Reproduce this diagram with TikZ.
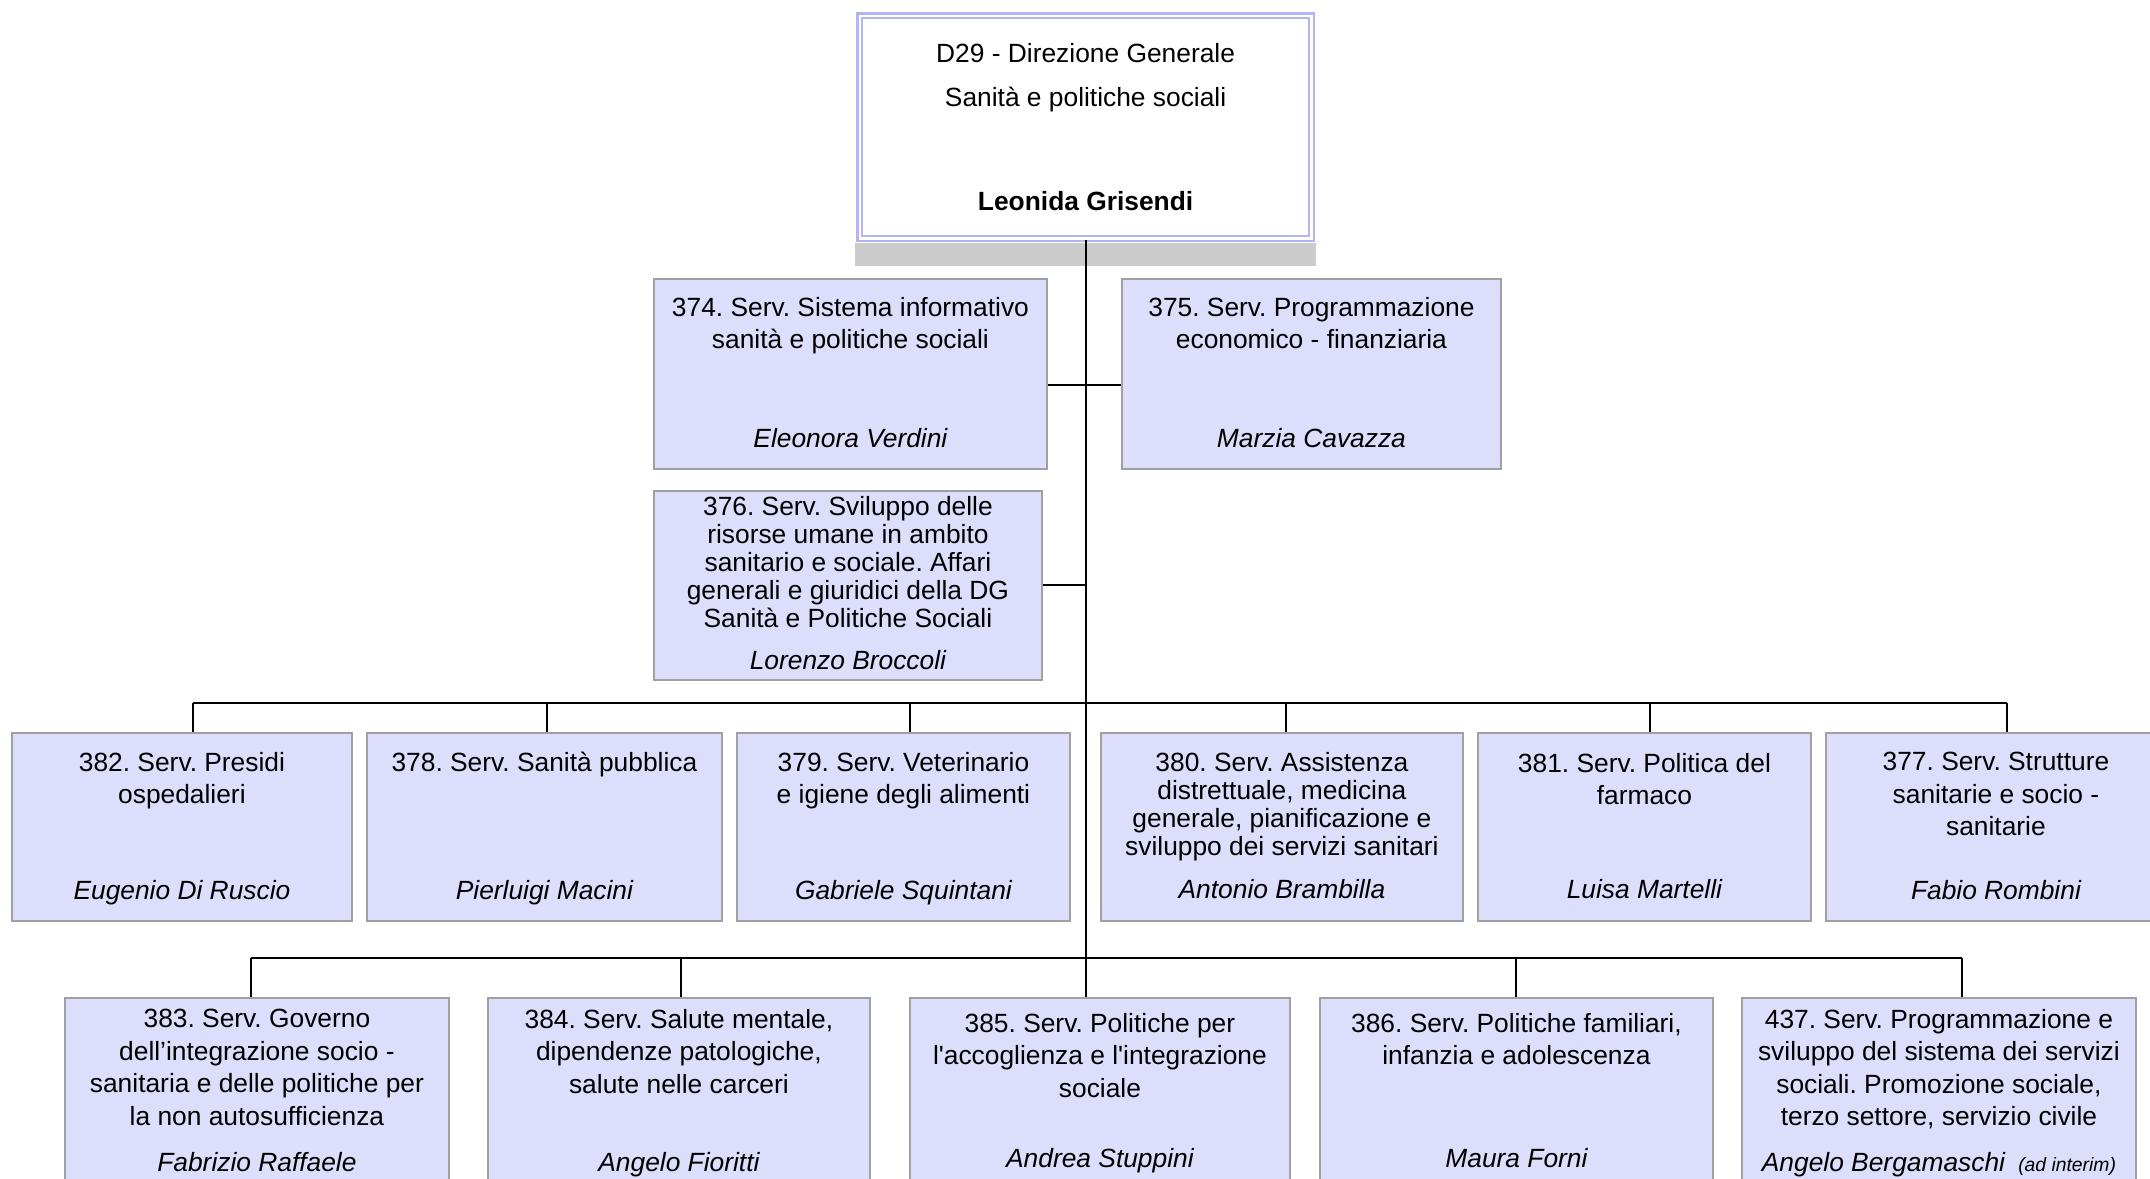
\documentclass[tikz,border=0pt]{standalone}
\usepackage{fontspec}
\setmainfont{Liberation Sans}[Ligatures=TeXOff]
\definecolor{riempi}{RGB}{221,221,252}
\definecolor{bordo}{RGB}{160,160,160}
\definecolor{lavanda}{RGB}{180,180,245}
\definecolor{ombra}{RGB}{204,204,204}
\frenchspacing
\begin{document}
\begin{tikzpicture}[x=0.02cm, y=-0.02cm,
	servizio/.style={draw=bordo, fill=riempi, line width=1.1pt, anchor=north west, inner sep=0pt, minimum height=3.76cm},
	titolo/.style={anchor=north, align=center, inner sep=0pt, font=\fontsize{15}{18.5}\selectfont},
	stretto/.style={font=\fontsize{15}{15.9}\selectfont},
	nome/.style={anchor=base, inner sep=0pt, font=\fontsize{15}{18}\selectfont\itshape},
	linea/.style={line width=1.1pt}]
			\useasboundingbox (0,0) rectangle (2150,1178);
			\clip (0,0) rectangle (2150,1178);
			% direzione generale
			\node [draw=lavanda, double=white, double distance=1.3pt, line width=1.3pt, fill=white, anchor=north west, inner sep=0pt, minimum width=9.04cm, minimum height=4.46cm, align=center, font=\fontsize{15}{18}\selectfont] (dg) at (858.5,14.5) {D29 - Direzione Generale\\[7pt]Sanità e politiche sociali\\[41pt]\textbf{Leonida Grisendi}};
			\fill [ombra] ([xshift=-1.9pt, yshift=-1.9pt]dg.south west) rectangle ([xshift=1.9pt, yshift=-0.53cm]dg.south east);
			% servizi in staff
			\node [servizio, minimum width=7.86cm, minimum height=3.80cm] (s374) at (653,278) {};
			\node [servizio, minimum width=7.58cm, minimum height=3.80cm] (s375) at (1121,278) {};
			\node [servizio, minimum width=7.76cm, minimum height=3.78cm] (s376) at (653,490) {};
			% prima fila
			\node [servizio, minimum width=6.80cm] (s382) at (11,732) {};
			\node [servizio, minimum width=7.10cm] (s378) at (366,732) {};
			\node [servizio, minimum width=6.66cm] (s379) at (736,732) {};
			\node [servizio, minimum width=7.24cm] (s380) at (1100,732) {};
			\node [servizio, minimum width=6.66cm] (s381) at (1477,732) {};
			\node [servizio, minimum width=6.80cm] (s377) at (1825,732) {};
			% seconda fila
			\node [servizio, minimum width=7.68cm] (s383) at (64,997) {};
			\node [servizio, minimum width=7.64cm] (s384) at (487,997) {};
			\node [servizio, minimum width=7.60cm] (s385) at (909,997) {};
			\node [servizio, minimum width=7.86cm] (s386) at (1319,997) {};
			\node [servizio, minimum width=7.88cm] (s437) at (1741,997) {};
			% testi
			\node [titolo] at ([yshift=-0.38cm]s374.north) {374. Serv. Sistema informativo\\sanità e politiche sociali};
			\node [nome] at ([yshift=0.44cm]s374.south) {Eleonora Verdini};
			\node [titolo] at ([yshift=-0.38cm]s375.north) {375. Serv. Programmazione\\economico - finanziaria};
			\node [nome] at ([yshift=0.44cm]s375.south) {Marzia Cavazza};
			\node [titolo, stretto] at ([yshift=-0.12cm]s376.north) {376. Serv. Sviluppo delle\\risorse umane in ambito\\sanitario e sociale. Affari\\generali e giuridici della DG\\Sanità e Politiche Sociali};
			\node [nome] at ([yshift=0.22cm]s376.south) {Lorenzo Broccoli};
			\node [titolo] at ([yshift=-0.40cm]s382.north) {382. Serv. Presidi\\ospedalieri};
			\node [nome] at ([yshift=0.44cm]s382.south) {Eugenio Di Ruscio};
			\node [titolo] at ([yshift=-0.40cm]s378.north) {378. Serv. Sanità pubblica};
			\node [nome] at ([yshift=0.44cm]s378.south) {Pierluigi Macini};
			\node [titolo] at ([yshift=-0.40cm]s379.north) {379. Serv. Veterinario\\e igiene degli alimenti};
			\node [nome] at ([yshift=0.44cm]s379.south) {Gabriele Squintani};
			\node [titolo, stretto] at ([yshift=-0.40cm]s380.north) {380. Serv. Assistenza\\distrettuale, medicina\\generale, pianificazione e\\sviluppo dei servizi sanitari};
			\node [nome] at ([yshift=0.46cm]s380.south) {Antonio Brambilla};
			\node [titolo] at ([yshift=-0.42cm]s381.north) {381. Serv. Politica del\\farmaco};
			\node [nome] at ([yshift=0.46cm]s381.south) {Luisa Martelli};
			\node [titolo] at ([yshift=-0.40cm]s377.north) {377. Serv. Strutture\\sanitarie e socio -\\sanitarie};
			\node [nome] at ([yshift=0.44cm]s377.south) {Fabio Rombini};
			\node [titolo] at ([yshift=-0.24cm]s383.north) {383. Serv. Governo\\dell’integrazione socio -\\sanitaria e delle politiche per\\la non autosufficienza};
			\node [nome] at ([yshift=0.30cm]s383.south) {Fabrizio Raffaele};
			\node [titolo] at ([yshift=-0.24cm]s384.north) {384. Serv. Salute mentale,\\dipendenze patologiche,\\salute nelle carceri};
			\node [nome] at ([yshift=0.30cm]s384.south) {Angelo Fioritti};
			\node [titolo] at ([yshift=-0.32cm]s385.north) {385. Serv. Politiche per\\l'accoglienza e l'integrazione\\sociale};
			\node [nome] at ([yshift=0.38cm]s385.south) {Andrea Stuppini};
			\node [titolo] at ([yshift=-0.32cm]s386.north) {386. Serv. Politiche familiari,\\infanzia e adolescenza};
			\node [nome] at ([yshift=0.38cm]s386.south) {Maura Forni};
			\node [titolo] at ([yshift=-0.24cm]s437.north) {437. Serv. Programmazione e\\sviluppo del sistema dei servizi\\sociali. Promozione sociale,\\terzo settore, servizio civile};
			\node [nome] at ([yshift=0.30cm]s437.south) {Angelo Bergamaschi\hspace{0.5em}{\fontsize{11}{13}\selectfont(ad interim)}};
			% collegamenti
			\coordinate (bus1) at (1084.5,703);
			\coordinate (bus2) at (1084.5,958);
			\draw [linea] (dg.south) -- (dg.south |- s385.north);
			\draw [linea] ([yshift=-0.22cm]s374.east) -- ([yshift=-0.22cm]s375.west);
			\draw [linea] (s376.east) -- (s376.east -| dg.south);
			\draw [linea] ([xshift=0.22cm]s382.north |- bus1) -- ([xshift=0.22cm]s377.north |- bus1);
			\draw [linea] ([xshift=0.22cm]s382.north) -- ([xshift=0.22cm]s382.north |- bus1);
			\draw [linea] ([xshift=0.06cm]s378.north) -- ([xshift=0.06cm]s378.north |- bus1);
			\draw [linea] ([xshift=0.14cm]s379.north) -- ([xshift=0.14cm]s379.north |- bus1);
			\draw [linea] ([xshift=0.08cm]s380.north) -- ([xshift=0.08cm]s380.north |- bus1);
			\draw [linea] ([xshift=0.12cm]s381.north) -- ([xshift=0.12cm]s381.north |- bus1);
			\draw [linea] ([xshift=0.22cm]s377.north) -- ([xshift=0.22cm]s377.north |- bus1);
			\draw [linea] ([xshift=-0.12cm]s383.north |- bus2) -- ([xshift=0.46cm]s437.north |- bus2);
			\draw [linea] ([xshift=-0.12cm]s383.north) -- ([xshift=-0.12cm]s383.north |- bus2);
			\draw [linea] ([xshift=0.04cm]s384.north) -- ([xshift=0.04cm]s384.north |- bus2);
			\draw [linea] (s386.north) -- (s386.north |- bus2);
			\draw [linea] ([xshift=0.46cm]s437.north) -- ([xshift=0.46cm]s437.north |- bus2);
		\end{tikzpicture}
\end{document}
